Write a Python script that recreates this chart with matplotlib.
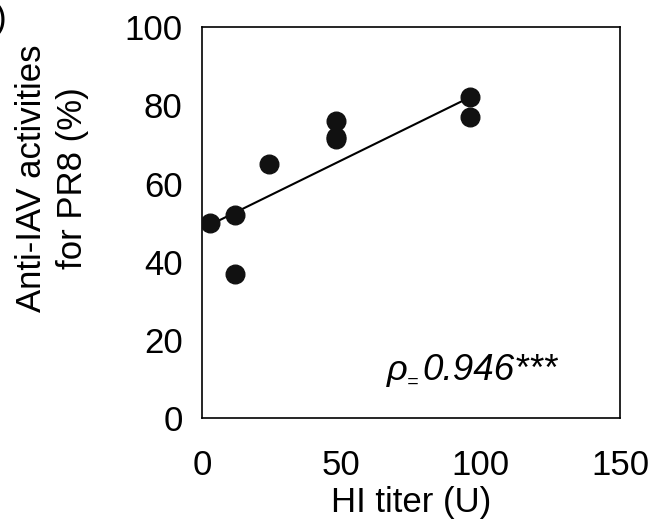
import matplotlib
matplotlib.use('Agg')
import matplotlib.pyplot as plt

# HI titer vs anti-IAV activity
hi_titer = [3, 12, 12, 24, 48, 48, 48, 96, 96]
activity = [50, 52, 37, 65, 76, 72, 71.5, 82, 77]

# trendline end points as drawn
trend_x = [3, 96]
trend_y = [49.5, 82]

plt.rcParams['font.family'] = ['Liberation Sans', 'DejaVu Sans']

fig = plt.figure(figsize=(6.55, 5.26), dpi=100)
ax = fig.add_axes([0.3084, 0.2044, 0.6382, 0.7443])

ax.scatter(hi_titer, activity, s=180, color='#111111', zorder=3)
ax.plot(trend_x, trend_y, color='black', lw=1.5, zorder=2)

ax.set_xlim(0, 150)
ax.set_ylim(0, 100)
ax.set_xticks([0, 50, 100, 150])
ax.set_yticks([0, 20, 40, 60, 80, 100])
ax.tick_params(axis='x', length=0, labelsize=25, pad=22)
ax.tick_params(axis='y', length=0, labelsize=25, pad=14)
for sp in ax.spines.values():
    sp.set_linewidth(1.2)

ax.set_xlabel('HI titer (U)', fontsize=25, labelpad=3)
# y label sits higher than the axes centre in the original
fig.text(0.079, 0.662, 'Anti-IAV activities\nfor PR8 (%)', fontsize=25,
         rotation=90, ha='center', va='center', linespacing=1.3)

# correlation annotation
ax.text(66.5, 9.8, 'ρ', fontsize=26, style='italic', va='baseline')
ax.text(73.6, 8.2, '=', fontsize=14, style='italic', va='baseline')
ax.text(79.0, 9.8, '0.946***', fontsize=26.5, style='italic', va='baseline')

fig.text(-0.008, 0.995, ')', fontsize=25, va='top', ha='left')

fig.savefig('out.png', dpi=100)
